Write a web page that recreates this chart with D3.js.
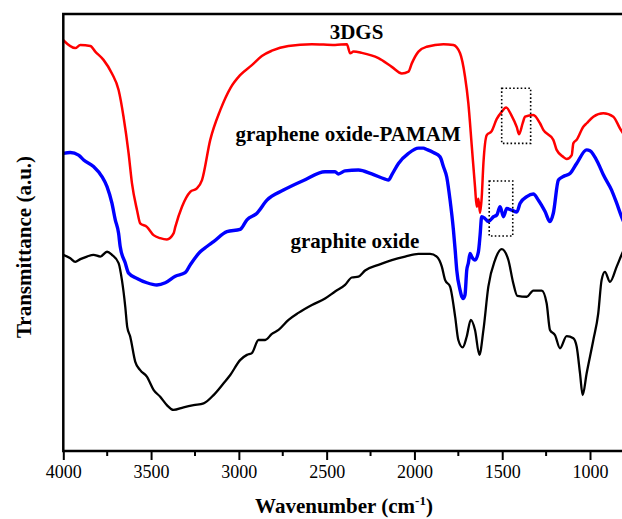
<!DOCTYPE html>
<html>
<head>
<meta charset="utf-8">
<script src="https://cdn.jsdelivr.net/npm/d3@7"></script>
<style>
  body { margin: 0; background: #fff; }
  svg { display: block; font-family: "Liberation Serif", "Times New Roman", serif; }
</style>
</head>
<body>
<div id="container"></div>
<script>
const width = 622, height = 519;

// --- Data: FTIR spectra, [wavenumber cm-1, transmittance a.u.] ---
const gs3d = [
  [4000, 94.0], [3932, 92.2], [3903, 92.9], [3846, 92.7], [3818, 91.4], [3771, 89.5],
  [3723, 86.4], [3685, 82.6], [3657, 76.5], [3628, 68.1], [3609, 61.3], [3580, 55.1],
  [3562, 52.1], [3524, 51.3], [3486, 49.4], [3448, 48.7], [3410, 48.4], [3372, 49.8],
  [3362, 51.3], [3324, 55.9], [3277, 59.3], [3239, 60.1], [3210, 62.0], [3163, 71.2],
  [3106, 78.0], [3049, 83.0], [2993, 86.0], [2926, 88.3], [2869, 90.4], [2812, 91.6],
  [2718, 92.7], [2584, 93.1], [2452, 92.9], [2385, 93.1], [2366, 91.0], [2347, 91.4],
  [2300, 91.1], [2205, 89.9], [2129, 87.9], [2072, 86.4], [2034, 86.8], [2015, 88.7],
  [1977, 91.4], [1930, 92.5], [1835, 93.1], [1778, 92.9], [1740, 91.0], [1712, 85.7],
  [1693, 79.6], [1673, 69.6], [1655, 60.5], [1645, 55.9], [1636, 57.7], [1626, 54.5],
  [1617, 57.9], [1607, 65.9], [1588, 72.3], [1560, 73.2], [1531, 76.0], [1503, 77.6],
  [1478, 78.6], [1446, 76.7], [1417, 74.1], [1404, 72.5], [1383, 75.1], [1370, 76.5],
  [1323, 76.9], [1285, 75.0], [1266, 73.5], [1209, 71.2], [1190, 68.9], [1152, 67.3],
  [1133, 66.8], [1104, 67.7], [1095, 70.4], [1076, 71.2], [1038, 74.2], [1019, 75.0],
  [981, 76.5], [924, 77.3], [867, 76.5], [829, 73.8], [800, 72.0]
];

const goPamam = [
  [4000, 68.1], [3960, 68.3], [3913, 67.7], [3884, 66.6], [3828, 65.1], [3780, 62.8],
  [3751, 60.5], [3723, 56.7], [3704, 52.9], [3685, 49.8], [3676, 46.8], [3647, 43.0],
  [3628, 40.7], [3580, 39.5], [3524, 38.5], [3467, 38.0], [3419, 38.5], [3362, 40.0],
  [3306, 40.8], [3277, 42.6], [3220, 45.6], [3182, 46.8], [3144, 47.9], [3068, 50.2],
  [2993, 50.7], [2954, 52.9], [2897, 54.4], [2840, 57.4], [2746, 59.7], [2632, 61.9],
  [2509, 63.9], [2452, 63.9], [2433, 63.4], [2395, 64.1], [2319, 64.3], [2243, 63.4],
  [2167, 62.2], [2148, 62.0], [2129, 63.2], [2091, 65.8], [2034, 68.1], [1977, 69.3],
  [1949, 69.3], [1930, 69.0], [1892, 68.3], [1854, 67.3], [1835, 65.1], [1816, 62.7],
  [1797, 57.4], [1778, 50.6], [1768, 46.0], [1759, 41.4], [1740, 36.8], [1730, 35.3],
  [1721, 34.9], [1712, 35.7], [1702, 41.4], [1693, 43.0], [1683, 45.2], [1674, 44.5],
  [1655, 43.7], [1636, 45.5], [1626, 49.4], [1617, 53.6], [1598, 53.2], [1579, 52.5],
  [1550, 53.6], [1531, 54.0], [1512, 55.9], [1493, 53.6], [1474, 55.5], [1446, 55.1],
  [1417, 54.7], [1398, 56.7], [1360, 58.2], [1323, 58.8], [1294, 57.4], [1256, 54.8],
  [1228, 52.5], [1209, 54.4], [1180, 62.0], [1152, 62.8], [1114, 63.5], [1076, 65.8],
  [1019, 68.9], [1000, 68.7], [953, 65.8], [924, 63.2], [877, 59.7], [848, 56.7],
  [820, 53.6], [800, 51.7]
];

const graphiteOxide = [
  [4000, 44.9], [3960, 44.1], [3932, 43.3], [3903, 43.9], [3865, 44.5], [3828, 44.9],
  [3789, 44.5], [3751, 45.6], [3723, 44.9], [3685, 43.0], [3666, 39.1], [3647, 33.0],
  [3636, 28.4], [3619, 26.2], [3590, 20.4], [3562, 18.5], [3524, 17.0], [3486, 14.0],
  [3448, 12.4], [3410, 10.5], [3372, 9.4], [3315, 10.0], [3258, 10.5], [3201, 10.9],
  [3144, 12.8], [3087, 15.5], [3049, 17.4], [2993, 20.8], [2954, 22.0], [2926, 22.4],
  [2888, 25.4], [2850, 25.4], [2812, 26.8], [2774, 27.7], [2717, 30.0], [2661, 31.6],
  [2584, 33.4], [2509, 34.9], [2452, 36.5], [2395, 38.0], [2357, 39.7], [2319, 39.9],
  [2281, 41.3], [2205, 42.6], [2129, 43.7], [2053, 44.5], [1977, 45.1], [1911, 45.1],
  [1873, 44.5], [1844, 42.2], [1825, 39.1], [1797, 37.6], [1768, 30.7], [1750, 25.4],
  [1725, 23.7], [1702, 26.2], [1679, 30.0], [1655, 27.7], [1630, 22.0], [1607, 27.7],
  [1579, 37.6], [1541, 43.7], [1503, 46.2], [1465, 43.7], [1437, 38.4], [1414, 35.5],
  [1360, 35.3], [1323, 36.7], [1275, 36.7], [1247, 33.8], [1228, 27.7], [1199, 26.5],
  [1171, 23.5], [1133, 26.3], [1095, 25.8], [1076, 23.9], [1057, 17.8], [1042, 12.8],
  [1019, 17.8], [981, 25.4], [953, 31.5], [934, 39.1], [915, 41.0], [886, 38.7],
  [848, 42.2], [820, 44.9], [800, 46.7]
];

// series labels: [text, wavenumber at centre, transmittance at baseline]
const seriesLabels = [
  ["3DGS", 2330, 94.3],
  ["graphene oxide-PAMAM", 2378, 70.9],
  ["graphite oxide", 2339, 46.5]
];

// dotted highlight boxes: [w1, w2, t1, t2]
const boxes = [
  [1503, 1338, 83.0, 70.4],
  [1574, 1440, 61.8, 49.2]
];

const majorTicks = [4000, 3500, 3000, 2500, 2000, 1500, 1000];
const minorTicks = [3750, 3250, 2750, 2250, 1750, 1250];

// --- Layout ---
const plotLeft = 63.3, plotTop = 14, plotBottom = 451;
const x = d3.scaleLinear().domain([4000, 800]).range([plotLeft, plotLeft + 3200 * (526.7 / 3000)]);
const y = d3.scaleLinear().domain([0, 100]).range([plotBottom, plotTop]);

const svg = d3.select("#container").append("svg")
  .attr("width", width).attr("height", height);

svg.append("defs").append("clipPath").attr("id", "plot-clip")
  .append("rect").attr("x", plotLeft).attr("y", plotTop)
  .attr("width", width - plotLeft).attr("height", plotBottom - plotTop);

// --- Spectra ---
const line = d3.line().x(d => x(d[0])).y(d => y(d[1])).curve(d3.curveMonotoneX);
const series = [
  { data: graphiteOxide, color: "#000000", w: 2.3 },
  { data: goPamam, color: "#0000ff", w: 3.4 },
  { data: gs3d, color: "#ff0000", w: 2.5 }
];
series.forEach(s => {
  svg.append("path")
    .datum(s.data)
    .attr("clip-path", "url(#plot-clip)")
    .attr("fill", "none")
    .attr("stroke", s.color)
    .attr("stroke-width", s.w)
    .attr("stroke-linejoin", "round")
    .attr("d", line);
});

// --- Dotted boxes ---
svg.selectAll(".box").data(boxes).join("rect")
  .attr("x", d => x(d[0])).attr("y", d => y(d[2]))
  .attr("width", d => x(d[1]) - x(d[0]))
  .attr("height", d => y(d[3]) - y(d[2]))
  .attr("fill", "none")
  .attr("stroke", "#000")
  .attr("stroke-width", 1.6)
  .attr("stroke-dasharray", "1.6,2.2");

// --- Series labels ---
svg.selectAll(".lab").data(seriesLabels).join("text")
  .attr("x", d => x(d[1])).attr("y", d => y(d[2]))
  .attr("text-anchor", "middle")
  .style("font-size", "21px").style("font-weight", "bold")
  .attr("fill", "#000")
  .text(d => d[0]);

// --- Axes ---
const xAxis = svg.append("g")
  .attr("transform", `translate(0,${plotBottom})`)
  .call(d3.axisBottom(x).tickValues(majorTicks).tickSize(9).tickPadding(5).tickSizeOuter(0).tickFormat(d3.format("d")));
xAxis.select(".domain").remove();
xAxis.selectAll("line").attr("stroke", "#000").attr("stroke-width", 2);
xAxis.selectAll("text").attr("fill", "#000")
  .style("font-size", "18px").style("font-family", "Liberation Serif, serif");

svg.append("g").selectAll("line").data(minorTicks).join("line")
  .attr("x1", d => x(d)).attr("x2", d => x(d))
  .attr("y1", plotBottom).attr("y2", plotBottom + 5)
  .attr("stroke", "#000").attr("stroke-width", 2);

// frame: bottom, left, top
svg.append("path")
  .attr("d", `M${width},${plotBottom}H${plotLeft}V${plotTop}H${width}`)
  .attr("fill", "none")
  .attr("stroke", "#000")
  .attr("stroke-width", 2.5);

// --- Axis titles ---
const xt = svg.append("text")
  .attr("x", 344).attr("y", 513)
  .attr("text-anchor", "middle")
  .style("font-size", "21px").style("font-weight", "bold")
  .text("Wavenumber (cm");
xt.append("tspan").attr("dy", -8).style("font-size", "13px").text("-1");
xt.append("tspan").attr("dy", 8).text(")");

svg.append("text")
  .attr("transform", `translate(31, 247) rotate(-90)`)
  .attr("text-anchor", "middle")
  .style("font-size", "21px").style("font-weight", "bold")
  .text("Transmittance (a.u.)");
</script>
</body>
</html>
